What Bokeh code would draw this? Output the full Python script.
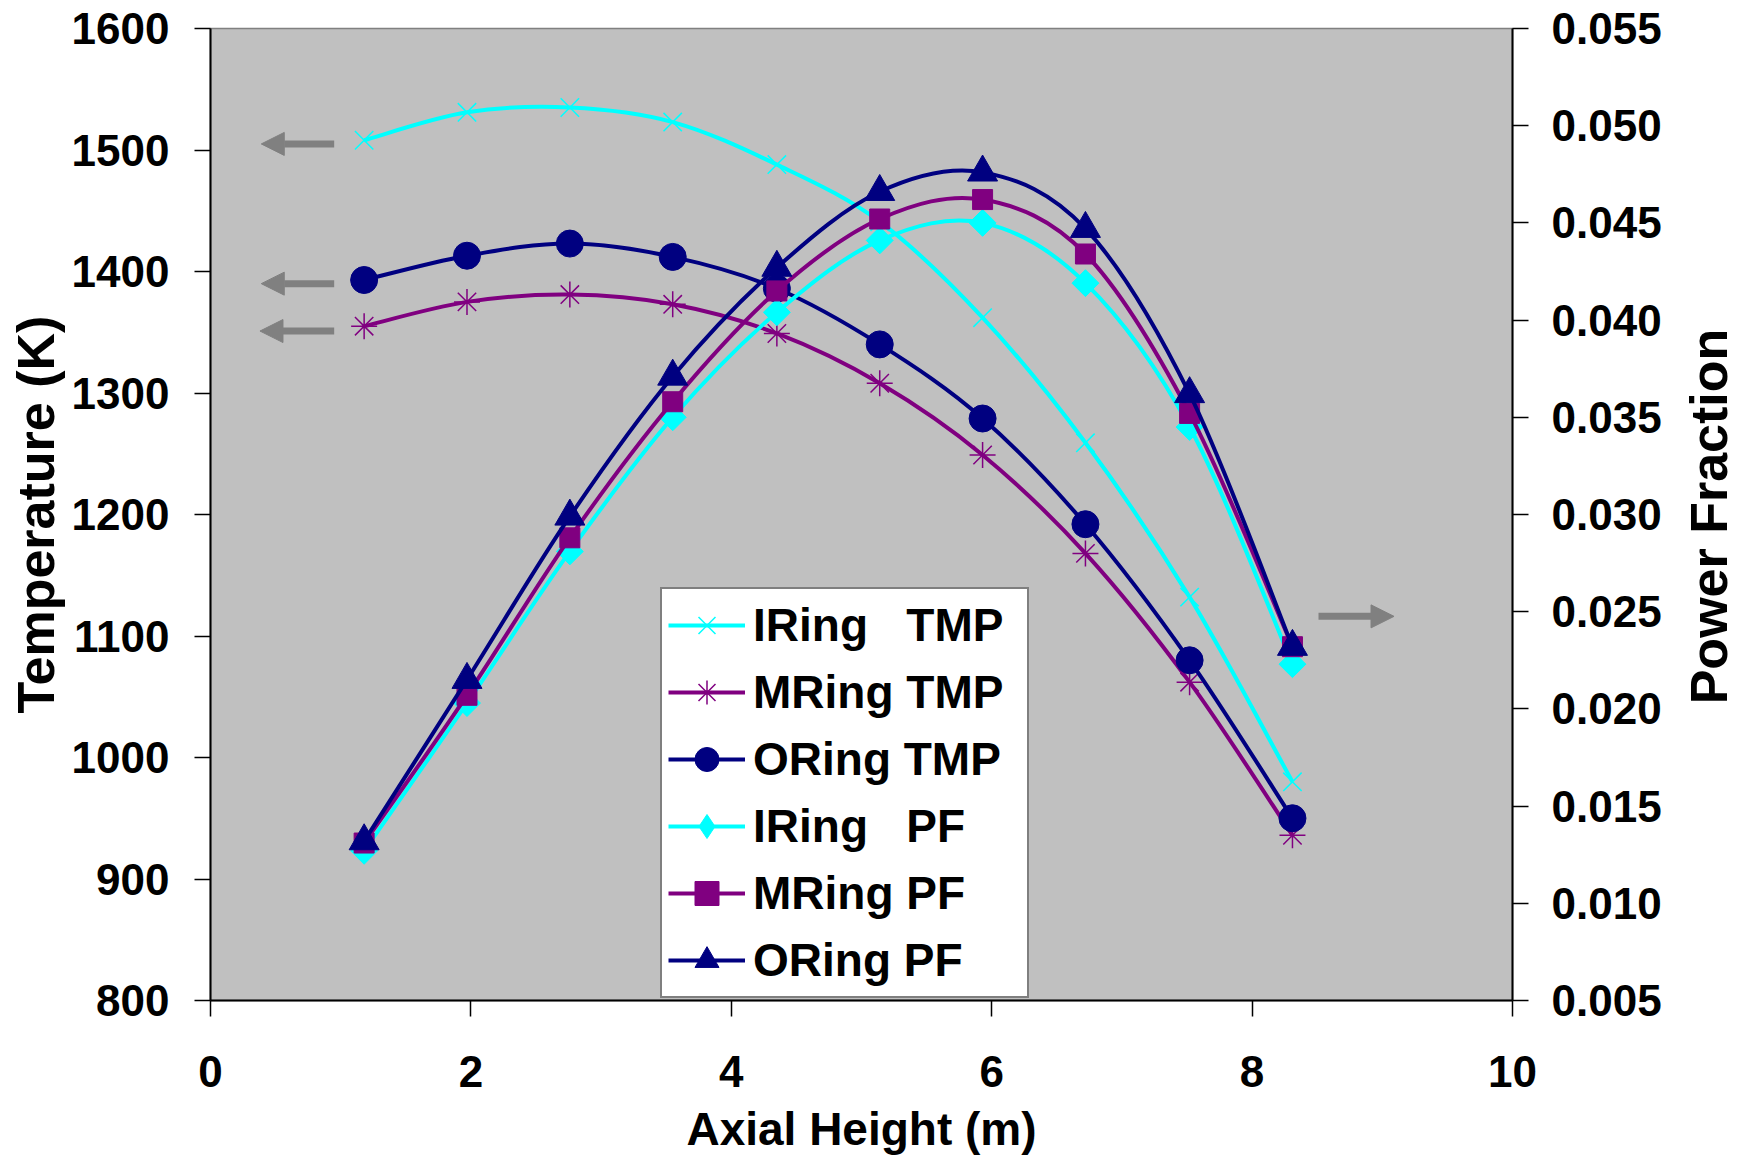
import numpy as np
from bokeh.plotting import figure
from bokeh.layouts import row
from bokeh.models import (Range1d, LinearAxis, FixedTicker, PrintfTickFormatter, Legend,
                          LegendItem, Arrow, NormalHead, ColumnDataSource, Label)
from bokeh.embed import file_html
from bokeh.resources import INLINE

# ---------------- data ----------------
height_m = [1.18, 1.97, 2.76, 3.55, 4.35, 5.14, 5.93, 6.72, 7.52, 8.31]

iring_tmp = [1508, 1531, 1535, 1523, 1488, 1441, 1362, 1259, 1132, 980]
mring_tmp = [1355, 1375, 1381, 1373, 1349, 1308, 1249, 1168, 1062, 936]
oring_tmp = [1393, 1413, 1423, 1412, 1386, 1340, 1279, 1192, 1080, 950]

iring_pf = [0.0127, 0.0203, 0.0281, 0.0350, 0.0404, 0.0441, 0.0450, 0.0419, 0.0345, 0.0223]
mring_pf = [0.0131, 0.0207, 0.0288, 0.0358, 0.0415, 0.0452, 0.0462, 0.0434, 0.0352, 0.0232]
oring_pf = [0.0132, 0.0215, 0.0299, 0.0371, 0.0427, 0.0466, 0.0476, 0.0447, 0.0362, 0.0232]

x_ticks = [0, 2, 4, 6, 8, 10]
temp_ticks = [800, 900, 1000, 1100, 1200, 1300, 1400, 1500, 1600]
pf_ticks = [0.005, 0.010, 0.015, 0.020, 0.025, 0.030, 0.035, 0.040, 0.045, 0.050, 0.055]

# pointer arrows (which axis each curve group belongs to)
left_arrow_x_start = [0.95, 0.95, 0.95]
left_arrow_x_end = [0.39, 0.39, 0.38]
left_arrow_y = [1505, 1390, 1351]
right_arrow_x_start = [8.51]
right_arrow_x_end = [9.09]
right_arrow_y = [0.02476]

labels = ["IRing\u00a0\u00a0\u00a0TMP", "MRing TMP", "ORing TMP",
          "IRing\u00a0\u00a0\u00a0PF", "MRing PF", "ORing PF"]

CYAN = "#00FFFF"
PURPLE = "#800080"
NAVY = "#000080"
GRAY = "#808080"
FONT = "Liberation Sans"
NAN1 = np.array([np.nan])


def bezier_parts(xs, ys):
    """Excel-style smoothed line: Catmull-Rom control points for each segment."""
    n = len(xs)
    out = {k: [] for k in ("x0", "y0", "x1", "y1", "cx0", "cy0", "cx1", "cy1")}
    for i in range(n - 1):
        im = max(i - 1, 0)
        i2 = min(i + 2, n - 1)
        out["x0"].append(xs[i]); out["y0"].append(ys[i])
        out["x1"].append(xs[i + 1]); out["y1"].append(ys[i + 1])
        out["cx0"].append(xs[i] + (xs[i + 1] - xs[im]) / 6.0)
        out["cy0"].append(ys[i] + (ys[i + 1] - ys[im]) / 6.0)
        out["cx1"].append(xs[i + 1] - (xs[i2] - xs[i]) / 6.0)
        out["cy1"].append(ys[i + 1] - (ys[i2] - ys[i]) / 6.0)
    return out


p = figure(width=1675, height=1157, output_backend="svg", toolbar_location=None,
           x_range=Range1d(0, 10), y_range=Range1d(800, 1600),
           min_border_left=210, min_border_right=163, min_border_top=28, min_border_bottom=155,
           background_fill_color="#C0C0C0", border_fill_color="white")
p.extra_y_ranges = {"pf": Range1d(0.005, 0.055)}
p.xgrid.grid_line_color = None
p.ygrid.grid_line_color = None
p.outline_line_color = GRAY
p.outline_line_width = 1.5

p.xaxis.ticker = FixedTicker(ticks=x_ticks)
p.yaxis.ticker = FixedTicker(ticks=temp_ticks)
raxis = LinearAxis(y_range_name="pf", ticker=FixedTicker(ticks=pf_ticks),
                   formatter=PrintfTickFormatter(format="%.3f"))
p.add_layout(raxis, "right")

xax = p.xaxis[0]
yax = p.yaxis[0]
for ax in [xax, yax, raxis]:
    ax.major_label_text_font = FONT
    ax.major_label_text_font_style = "bold"
    ax.major_label_text_font_size = "44px"
    ax.major_label_text_color = "black"
    ax.axis_line_color = "black"
    ax.axis_line_width = 2
    ax.major_tick_line_color = "black"
    ax.major_tick_line_width = 1.5
    ax.major_tick_out = 16
    ax.major_tick_in = 0
    ax.minor_tick_out = 0
    ax.minor_tick_in = 0
    ax.axis_label_text_font = FONT
    ax.axis_label_text_font_style = "bold"
    ax.axis_label_text_color = "black"
yax.major_label_standoff = 25
raxis.major_label_standoff = 23
xax.major_label_standoff = 39

yax.axis_label = "Temperature (K)"
yax.axis_label_text_font_size = "52px"
yax.axis_label_standoff = 4

xax.axis_label = "Axial Height (m)"
xax.axis_label_text_font_size = "46px"
xax.axis_label_standoff = 13

series = [
    (iring_tmp, CYAN, "x", 26, None, "default", "x"),
    (mring_tmp, PURPLE, "asterisk", 26, None, "default", "asterisk"),
    (oring_tmp, NAVY, "circle", 27, NAVY, "default", "circle"),
    (iring_pf, CYAN, "square", 19, CYAN, "pf", "diamond"),
    (mring_pf, PURPLE, "square", 20, PURPLE, "pf", "square"),
    (oring_pf, NAVY, "triangle", 30, NAVY, "pf", "triangle"),
]

items = []
for (ys, col, mk, sz, fill, rng, legmk), lab in zip(series, labels):
    bz = bezier_parts(height_m, ys)
    p.bezier(source=ColumnDataSource(bz), x0="x0", y0="y0", x1="x1", y1="y1",
             cx0="cx0", cy0="cy0", cx1="cx1", cy1="cy1",
             line_color=col, line_width=4, y_range_name=rng)
    ang = np.pi / 4 if (mk == "square" and col == CYAN) else 0.0
    p.scatter(x=height_m, y=ys, marker=mk, size=sz, angle=ang,
              line_color=col, line_width=1.5 if fill is None else 1,
              fill_color=fill, y_range_name=rng)
    # legend samples (no visible marks in the plot: NaN-only sources)
    lr = p.line(x=NAN1, y=NAN1, line_color=col, line_width=4, y_range_name=rng)
    ls = p.scatter(x=NAN1, y=NAN1, marker=legmk, size=sz, line_color=col,
                   line_width=1.5 if fill is None else 1, fill_color=fill, y_range_name=rng)
    items.append(LegendItem(label=lab, renderers=[lr, ls]))

legend = Legend(items=items, location=(450, 2), orientation="vertical",
                glyph_width=77, glyph_height=60, label_height=60, label_width=268,
                spacing=7, padding=6, margin=0, label_standoff=8,
                label_text_font=FONT, label_text_font_style="bold",
                label_text_font_size="46px", label_text_color="black",
                border_line_color="black", border_line_width=2,
                background_fill_color="white", background_fill_alpha=1.0)
p.add_layout(legend)

# arrows
la_src = ColumnDataSource(dict(xs=left_arrow_x_start, xe=left_arrow_x_end, y=left_arrow_y))
p.add_layout(Arrow(source=la_src, x_start="xs", y_start="y", x_end="xe", y_end="y",
                   line_color=GRAY, line_width=7,
                   end=NormalHead(size=23, fill_color=GRAY, line_color=GRAY)))
ra_src = ColumnDataSource(dict(xs=right_arrow_x_start, xe=right_arrow_x_end, y=right_arrow_y))
p.add_layout(Arrow(source=ra_src, x_start="xs", y_start="y", x_end="xe", y_end="y",
                   y_range_name="pf", line_color=GRAY, line_width=7,
                   end=NormalHead(size=23, fill_color=GRAY, line_color=GRAY)))

# right-hand axis title, reading bottom-to-top, in a narrow strip beside the chart
# (the strip's frame is aligned with the chart frame by the row layout)
side = figure(width=62, height=1157, output_backend="svg", toolbar_location=None,
              x_range=Range1d(0, 1), y_range=Range1d(0, 1),
              x_axis_type=None, y_axis_type=None, min_border=0,
              outline_line_color=None, background_fill_color="white",
              border_fill_color="white")
side.xgrid.grid_line_color = None
side.ygrid.grid_line_color = None
side.add_layout(Label(x=33, y=484, x_units="screen", y_units="screen",
                      text="Power Fraction", angle=np.pi / 2, text_align="center",
                      text_baseline="middle", text_font=FONT, text_font_style="bold",
                      text_font_size="52px", text_color="black"))

layout = row(p, side, spacing=0)
open("out.html", "w").write(file_html(layout, INLINE))
